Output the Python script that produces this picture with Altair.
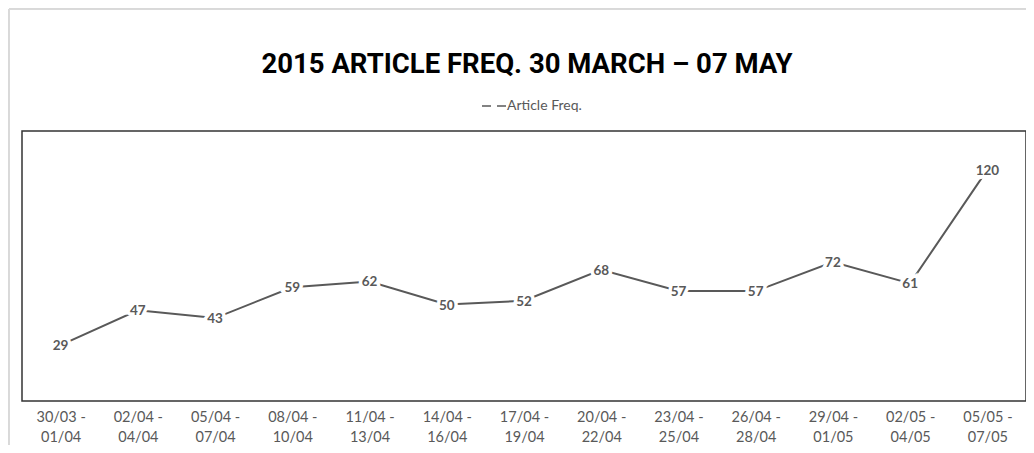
import altair as alt
import pandas as pd

periods = ["30/03 - 01/04", "02/04 - 04/04", "05/04 - 07/04", "08/04 - 10/04",
           "11/04 - 13/04", "14/04 - 16/04", "17/04 - 19/04", "20/04 - 22/04",
           "23/04 - 25/04", "26/04 - 28/04", "29/04 - 01/05", "02/05 - 04/05",
           "05/05 - 07/05"]
freq = [29, 47, 43, 59, 62, 50, 52, 68, 57, 57, 72, 61, 120]
series_name = "Article Freq."
title_text = "2015 ARTICLE FREQ. 30 MARCH \u2013 07 MAY"

df = pd.DataFrame({"period": periods, "freq": freq, "series": [series_name] * len(periods)})
title_df = pd.DataFrame({"t": [title_text]})

GREY = "#595959"
TFONT = "Roboto, sans-serif"
LFONT = "Lato, sans-serif"

x_enc = alt.X("period:O", sort=periods,
              scale=alt.Scale(type="point", padding=0.5),
              axis=alt.Axis(title=None, labelAngle=0, domain=False, ticks=False,
                            labelFont=LFONT, labelFontSize=14.5, labelColor=GREY,
                            labelPadding=9, labelLineHeight=20, labelBaseline="top",
                            labelExpr="[split(datum.label, ' - ')[0] + ' -', split(datum.label, ' - ')[1]]"))
y_enc = alt.Y("freq:Q", scale=alt.Scale(domain=[0, 140]), axis=None)

base = alt.Chart(df)

border = base.mark_rect(fillOpacity=0, stroke="#d9d9d9", strokeWidth=1).encode(
    x=alt.value(-13), x2=alt.value(1200), y=alt.value(-122), y2=alt.value(500)
)

title = alt.Chart(title_df).mark_text(font=TFONT, fontSize=27.5, fontWeight="bold",
                                      color="black", align="center", baseline="middle").encode(
    x=alt.value(505), y=alt.value(-66), text="t:N")

line = base.mark_line(strokeWidth=2).encode(
    x=x_enc, y=y_enc,
    color=alt.Color("series:N", scale=alt.Scale(range=[GREY]),
                    legend=alt.Legend(title=None, orient="none", legendX=459, legendY=-38,
                                      direction="horizontal", symbolType="stroke",
                                      symbolDash=[9, 6], symbolStrokeWidth=1.5,
                                      symbolSize=576, labelFont=LFONT, labelFontSize=14,
                                      labelColor=GREY, labelOffset=0))
)

halo = base.mark_text(fontWeight="bold", fontSize=13.5, font=LFONT, stroke="white",
                      strokeWidth=7, color="white", dy=1).encode(
    x=x_enc, y=y_enc, text="freq:Q")
labels = base.mark_text(fontWeight="bold", fontSize=13.5, font=LFONT, color=GREY, dy=1).encode(
    x=x_enc, y=y_enc, text="freq:Q")

chart = alt.layer(border, title, line, halo, labels).properties(
    width=1004, height=270,
    autosize=alt.AutoSizeParams(type="none"),
    padding={"left": 14, "top": 123, "right": 0, "bottom": 44},
).configure_view(stroke="#333333", strokeWidth=1.5)

chart.save("out.html", embed_options={"renderer": "svg", "actions": False})
